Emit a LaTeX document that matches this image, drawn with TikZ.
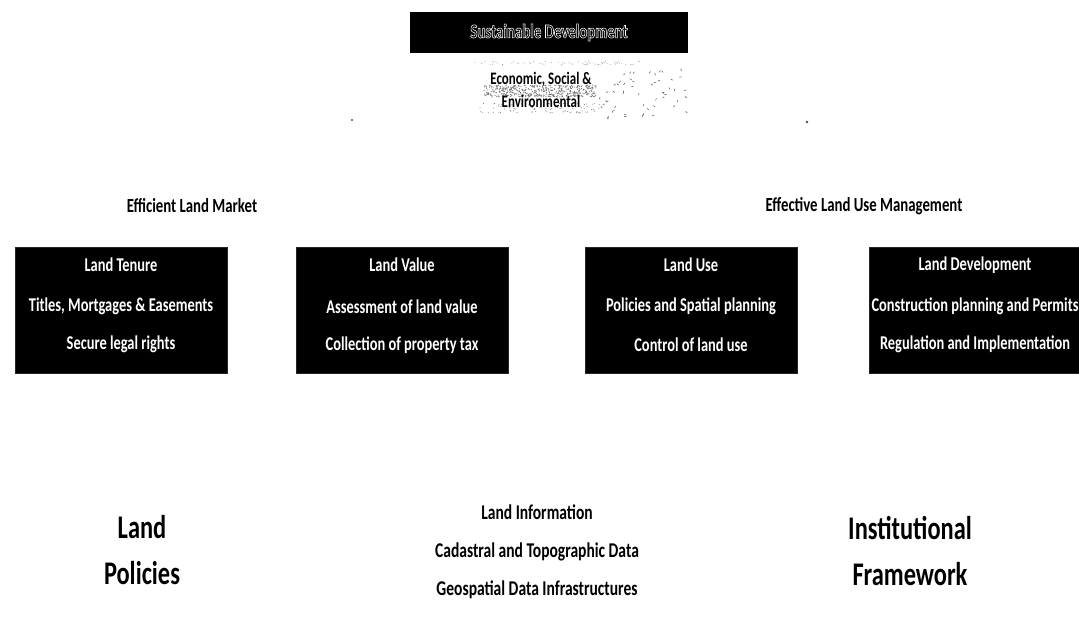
\documentclass[tikz,border=0pt]{standalone}
\usepackage{fontspec}
\usetikzlibrary{calc}
% Condensed humanist sans for all labels
\newfontfamily\cond{Carlito}[FakeStretch=0.74]

\tikzset{
  blackbox/.style={fill=black, draw=black!85, line width=0.6pt, inner sep=0pt,
                   minimum width=212pt, minimum height=126pt},
  boxtext/.style={text=white, inner sep=0pt,
                  font=\cond\bfseries\fontsize{19.5}{22}\selectfont},
  heading/.style={text=black, inner sep=0pt,
                  font=\cond\bfseries\fontsize{20}{22}\selectfont},
  pillar/.style={text=black, inner sep=0pt,
                  font=\cond\bfseries\fontsize{17.5}{20}\selectfont},
  infotext/.style={text=black, inner sep=0pt,
                  font=\cond\bfseries\fontsize{21}{24}\selectfont},
  bigtext/.style={text=black, inner sep=0pt, align=center,
                  font=\cond\bfseries\fontsize{33}{46}\selectfont},
  speck/.style={fill=black!55},
}

% white outlined (hollow) lettering
\newcommand{\hollowtext}[1]{{\color{white}\special{pdf:literal direct 1 Tr 0.55 w}#1\special{pdf:literal direct 0 Tr}}}

\begin{document}
\begin{tikzpicture}[x=1pt,y=-1pt]
\useasboundingbox (0,0) rectangle (1079,618);
\clip (0,0) rectangle (1079,618);

% ---- goal at the top ----
\node[fill=black, inner sep=0pt, minimum width=278pt, minimum height=41pt] (goal) at (549,32.5) {};
\node[inner sep=0pt, font=\cond\bfseries\fontsize{20}{22}\selectfont] (goaltext) at (goal.center) {\hollowtext{Sustainable Development}};

% scanned speckle around the pillars text
\pgfmathsetseed{17}
\foreach \i in {1,...,480} {
  \pgfmathsetmacro\px{484+rnd*112}
  \pgfmathsetmacro\py{85+rnd*12}
  \fill[speck] (\px,\py) circle (0.6);
}
\foreach \i in {1,...,90} {
  \pgfmathsetmacro\px{480+rnd*120}
  \pgfmathsetmacro\py{103+rnd*10}
  \fill[speck] (\px,\py) circle (0.5);
}
\foreach \i in {1,...,70} {
  \pgfmathsetmacro\px{470+rnd*170}
  \pgfmathsetmacro\py{61+rnd*4}
  \fill[black!45] (\px,\py) circle (0.45);
}
\foreach \i in {1,...,55} {
  \pgfmathsetmacro\px{600+rnd*88}
  \pgfmathsetmacro\py{68+rnd*52}
  \pgfmathsetmacro\ang{rnd*180}
  \draw[black!60, line width=0.6pt] (\px,\py) -- ++(\ang:2.2);
}
\fill[black!70] (352,120) circle (1.2);
\fill[black!70] (807,122) circle (1.3);

\node[pillar] (pillars1) at (541,80) {Economic, Social \&};
\node[pillar] (pillars2) at (541,101) {Environmental};

% ---- group headings ----
\node[heading] (market) at (192,206) {Efficient Land Market};
\node[heading] (mgmt) at (864,206) {Effective Land Use Management};

% ---- four land administration functions ----
\node[blackbox] (tenure) at (121,310) {};
\node[boxtext] (tenure1) at ($(tenure.north)+(0,18)$) {Land Tenure};
\node[boxtext] (tenure2) at ($(tenure.north)+(0,60)$) {Titles, Mortgages \& Easements};
\node[boxtext] (tenure3) at ($(tenure.north)+(0,98)$) {Secure legal rights};

\node[blackbox] (value) at (402,310) {};
\node[boxtext] (value1) at ($(value.north)+(0,18)$) {Land Value};
\node[boxtext] (value2) at ($(value.north)+(0,60)$) {Assessment of land value};
\node[boxtext] (value3) at ($(value.north)+(0,98)$) {Collection of property tax};

\node[blackbox] (use) at (691,310) {};
\node[boxtext] (use1) at ($(use.north)+(0,18)$) {Land Use};
\node[boxtext] (use2) at ($(use.north)+(0,60)$) {Policies and Spatial planning};
\node[boxtext] (use3) at ($(use.north)+(0,98)$) {Control of land use};

\node[blackbox] (dev) at (975,310) {};
\node[boxtext] (dev1) at ($(dev.north)+(0,18)$) {Land Development};
\node[boxtext] (dev2) at ($(dev.north)+(0,60)$) {Construction planning and Permits};
\node[boxtext] (dev3) at ($(dev.north)+(0,98)$) {Regulation and Implementation};

% ---- foundations ----
\node[bigtext] (policies) at (142,550) {Land\\Policies};
\node[infotext] (info1) at (537,512) {Land Information};
\node[infotext] (info2) at (537,552) {Cadastral and Topographic Data};
\node[infotext] (info3) at (537,590) {Geospatial Data Infrastructures};
\node[bigtext] (inst) at (910,551) {Institutional\\Framework};
\end{tikzpicture}
\end{document}
